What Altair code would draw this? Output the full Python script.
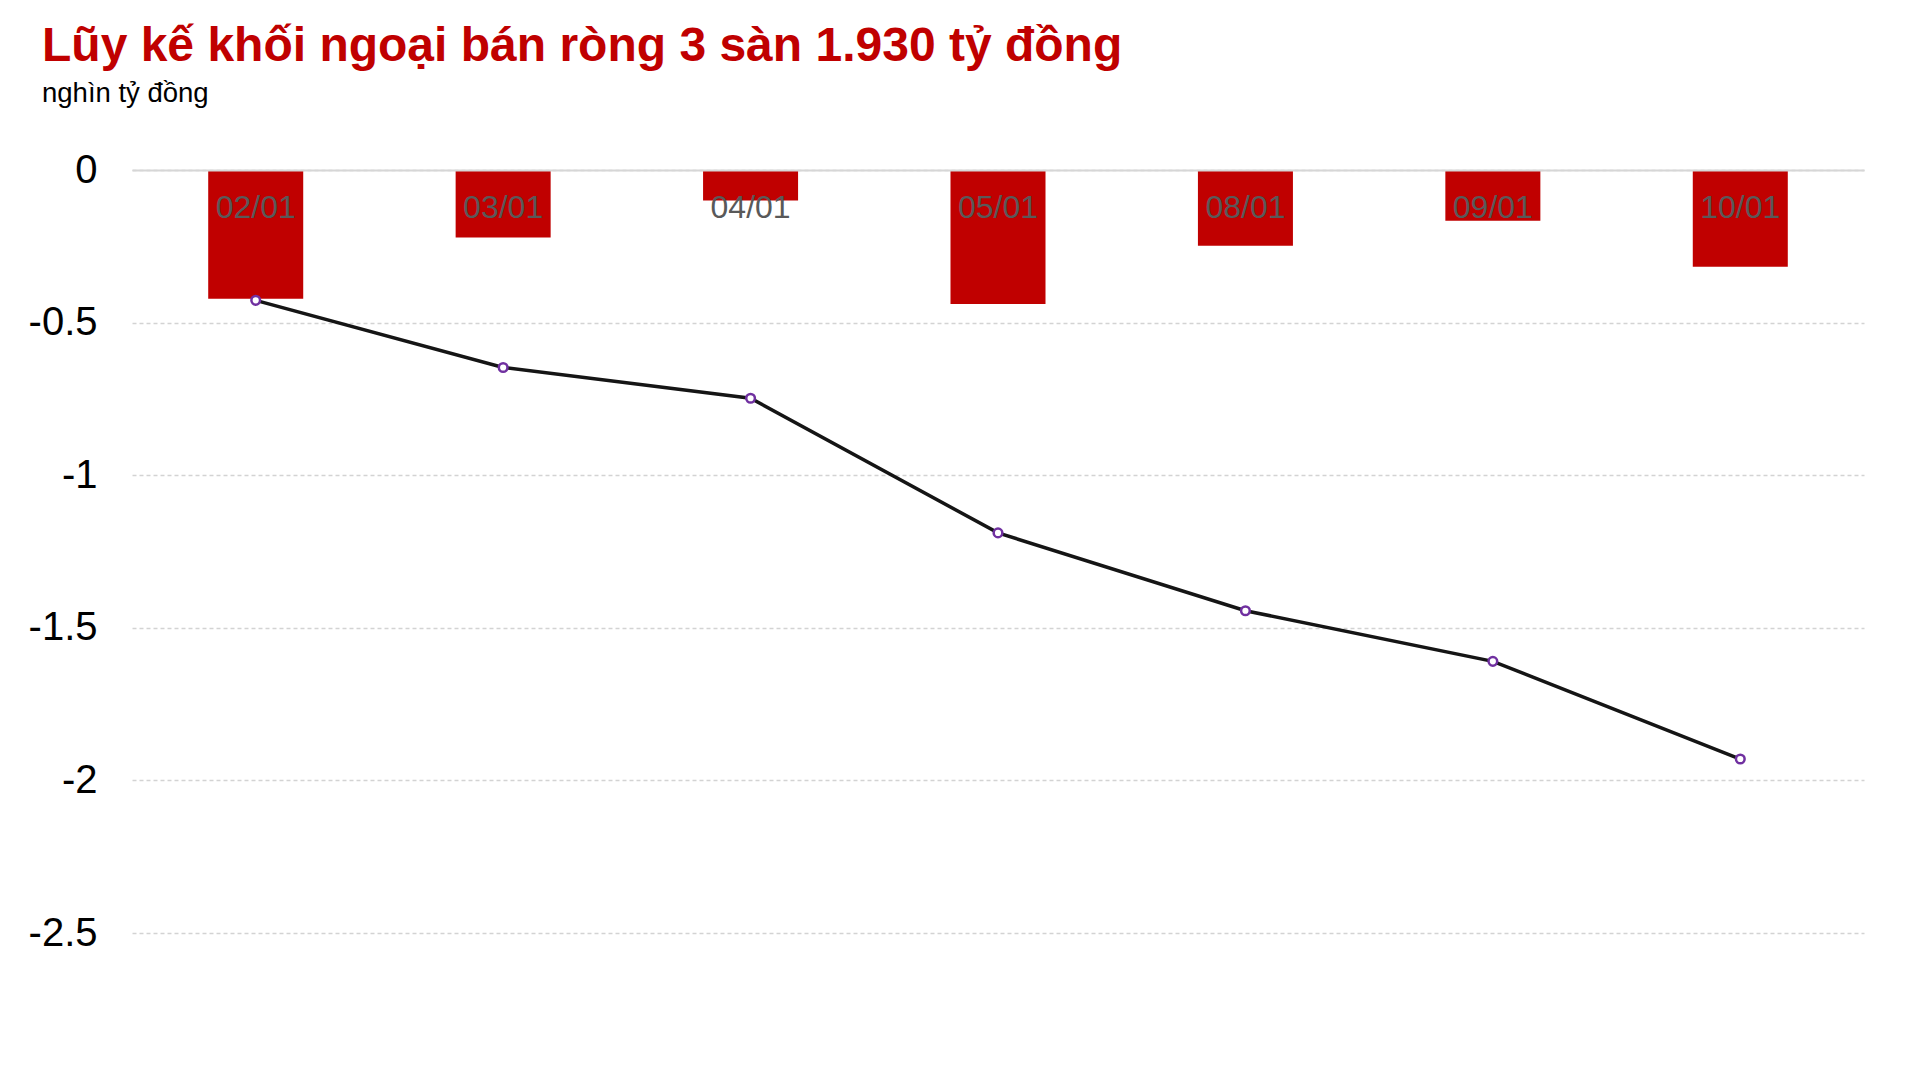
import altair as alt
import pandas as pd

dates = ["02/01", "03/01", "04/01", "05/01", "08/01", "09/01", "10/01"]
daily = [-0.422, -0.221, -0.100, -0.439, -0.248, -0.166, -0.317]
cumulative = [-0.427, -0.647, -0.748, -1.189, -1.444, -1.610, -1.930]
y_ticks = [0, -0.5, -1, -1.5, -2, -2.5]

title_text = "Lũy kế khối ngoại bán ròng 3 sàn 1.930 tỷ đồng"
subtitle_text = "nghìn tỷ đồng"

df = pd.DataFrame({"date": dates, "daily": daily, "cum": cumulative})

FONT = "Liberation Sans"

x_enc = alt.X(
    "date:N",
    sort=None,
    title=None,
    scale=alt.Scale(paddingInner=0.616, paddingOuter=0.308),
    axis=alt.Axis(
        orient="top",
        domain=True,
        domainColor="#d6d6d6",
        domainWidth=2,
        ticks=False,
        grid=False,
        labelAngle=0,
        labelFont=FONT,
        labelFontSize=32,
        labelColor="#595959",
        labelPadding=-37,
        labelBaseline="middle",
        zindex=2,
    ),
)

y_scale = alt.Scale(domain=[-2.5, 0], nice=False, zero=False)
y_axis = alt.Axis(
    values=y_ticks,
    domain=False,
    ticks=False,
    grid=True,
    gridColor="#d3d3d3",
    gridDash=[4, 3],
    gridWidth=1.6,
    labelFont=FONT,
    labelFontSize=40,
    labelColor="#000000",
    labelPadding=35,
    labelExpr="datum.value == 0 ? '0' : '-' + abs(datum.value)",
    title=None,
)

base = alt.Chart(df)

bars = base.mark_bar(color="#c00000").encode(
    x=x_enc,
    y=alt.Y("daily:Q", scale=y_scale, axis=y_axis),
    y2=alt.datum(0),
)

line = base.mark_line(color="#151515", strokeWidth=3.5).encode(
    x=alt.X("date:N", sort=None),
    y=alt.Y("cum:Q"),
)

points = base.mark_point(
    shape="circle", filled=True, fill="white", stroke="#7030a0",
    strokeWidth=2.5, size=75, opacity=1,
).encode(
    x=alt.X("date:N", sort=None),
    y=alt.Y("cum:Q"),
)

chart = (
    alt.layer(bars, line, points)
    .properties(
        width=1732,
        height=763,
        autosize=alt.AutoSizeParams(type="none"),
        padding={"left": 124, "top": 162, "right": 20, "bottom": 100},
        title=alt.TitleParams(
            text=title_text,
            subtitle=subtitle_text,
            anchor="start",
            frame="group",
            dx=-90,
            offset=43,
            font=FONT,
            fontSize=48,
            fontWeight="bold",
            color="#c00000",
            subtitleFont=FONT,
            subtitleFontSize=27.5,
            subtitleColor="#000000",
            subtitlePadding=9,
        ),
    )
    .configure(background="white")
    .configure_view(strokeWidth=0, stroke="transparent")
)

chart.save("out.html", embed_options={"renderer": "svg", "actions": False})
